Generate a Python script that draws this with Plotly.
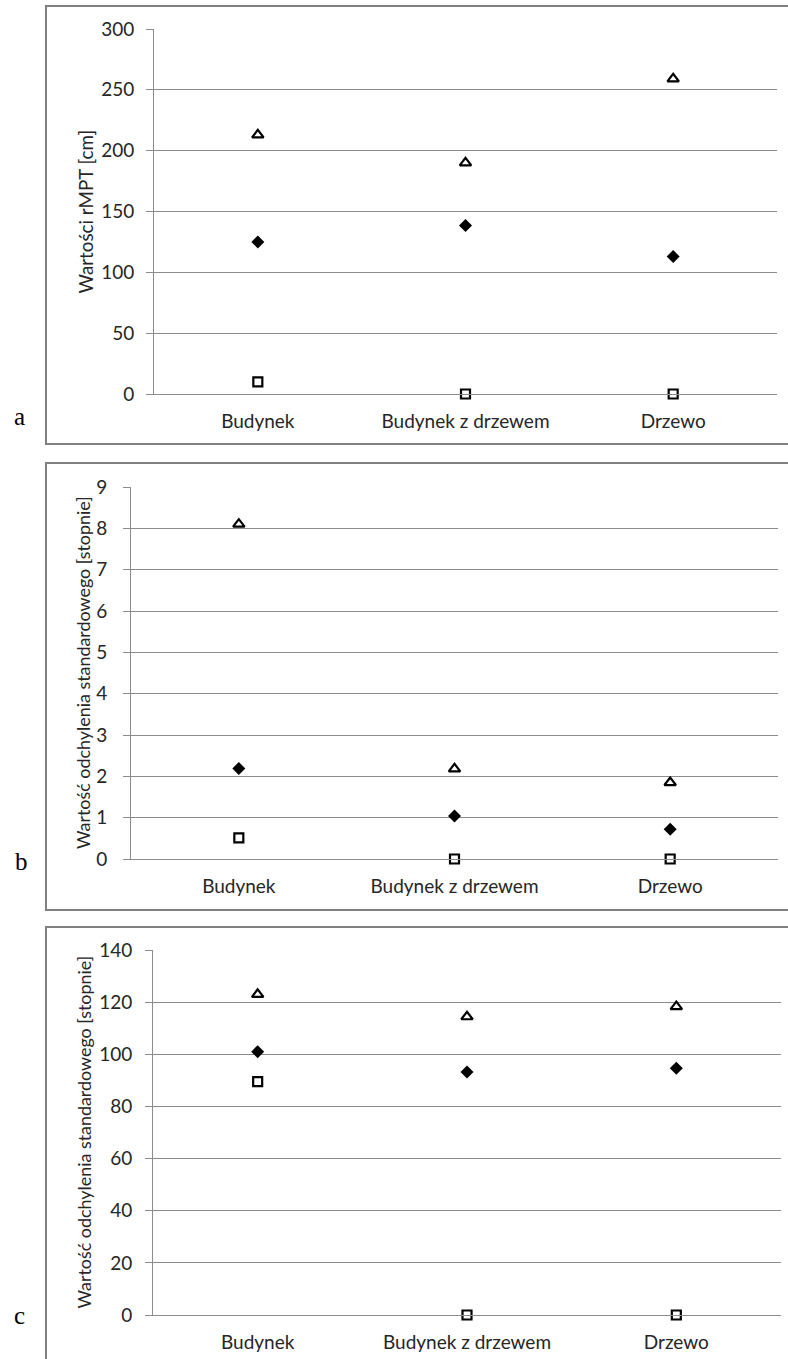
import plotly.graph_objects as go

W, H = 788, 1359

categories = ["Budynek", "Budynek z drzewem", "Drzewo"]

# panel a - rMPT [cm]
a_max = [213, 190, 259]
a_mean = [125, 138.5, 113]
a_min = [10, 0, 0]

# panel b
b_max = [8.1, 2.18, 1.85]
b_mean = [2.19, 1.04, 0.72]
b_min = [0.51, 0, 0]

# panel c
c_max = [123, 114.4, 118.3]
c_mean = [101, 93.2, 94.6]
c_min = [89.5, 0, 0]

y_ticks_a = [0, 50, 100, 150, 200, 250, 300]
y_ticks_b = [0, 1, 2, 3, 4, 5, 6, 7, 8, 9]
y_ticks_c = [0, 20, 40, 60, 80, 100, 120, 140]

titles = ["Wartości rMPT [cm]",
          "Wartość odchylenia standardowego [stopnie]",
          "Wartość odchylenia standardowego [stopnie]"]
letters = ["a", "b", "c"]

FONT = "Lato"
TXT = "#262626"
GRID = "#8c8c8c"


def px(x):
    return x / W


def py(y):
    return 1 - y / H


panels = [
    dict(data=(a_max, a_mean, a_min), ticks=y_ticks_a, x=(154, 777), y=(29, 394),
         box=(46, 6, 792, 444), tstand=8, title_x=85, tsize=18.8, letter=(19, 418)),
    dict(data=(b_max, b_mean, b_min), ticks=y_ticks_b, x=(131, 778), y=(487, 859),
         box=(46, 463, 792, 910), tstand=12, title_x=83, tsize=17.9, letter=(21, 864)),
    dict(data=(c_max, c_mean, c_min), ticks=y_ticks_c, x=(153, 781), y=(950, 1315),
         box=(46, 927, 792, 1365), tstand=9, title_x=83, tsize=17.9, letter=(19, 1317)),
]

fig = go.Figure()
shapes = []
annotations = []

for i, p in enumerate(panels):
    n = "" if i == 0 else str(i + 1)
    xa, ya = "x" + n, "y" + n
    vmax, vmean, vmin = p["data"]
    fig.add_trace(go.Scatter(x=categories, y=vmin, mode="markers", xaxis=xa, yaxis=ya,
                             cliponaxis=False, showlegend=False,
                             marker=dict(symbol="square-open", size=9, color="black",
                                         line=dict(width=2.2, color="black"))))
    fig.add_trace(go.Scatter(x=categories, y=vmean, mode="markers", xaxis=xa, yaxis=ya,
                             cliponaxis=False, showlegend=False,
                             marker=dict(symbol="diamond", size=10, color="black")))
    fig.add_trace(go.Scatter(x=categories, y=vmax, mode="markers", xaxis=xa, yaxis=ya,
                             cliponaxis=False, showlegend=False,
                             marker=dict(symbol="triangle-up-open", size=10, color="black",
                                         line=dict(width=2.2, color="black"))))
    x0, x1 = p["x"]
    y0, y1 = p["y"]
    fig.layout["xaxis" + n] = dict(
        domain=[px(x0), px(x1)], anchor=ya, type="category", automargin=False,
        range=[-0.5, 2.5], showgrid=False, showline=True, linecolor=GRID, linewidth=1,
        ticks="", ticklabelstandoff=10, zeroline=False,
        tickfont=dict(family=FONT, size=19, color=TXT), fixedrange=True)
    fig.layout["yaxis" + n] = dict(
        domain=[py(y1), py(y0)], anchor=xa, automargin=False,
        range=[p["ticks"][0], p["ticks"][-1]], tickvals=p["ticks"],
        showgrid=True, gridcolor=GRID, gridwidth=1,
        showline=True, linecolor=GRID, linewidth=1,
        ticks="outside", ticklen=7, tickcolor=GRID, tickwidth=1,
        ticklabelstandoff=p["tstand"], zeroline=False,
        tickfont=dict(family=FONT, size=19, color=TXT), fixedrange=True)
    bx0, by0, bx1, by1 = p["box"]
    shapes.append(dict(type="rect", xref="paper", yref="paper",
                       x0=px(bx0), x1=px(bx1), y0=py(by1), y1=py(by0),
                       line=dict(color="#808080", width=2), layer="below"))
    annotations.append(dict(text=titles[i], xref="paper", yref="paper",
                            x=px(p["title_x"]), y=py((y0 + y1) / 2),
                            xanchor="center", yanchor="middle", textangle=-90,
                            showarrow=False, font=dict(family=FONT, size=p["tsize"], color=TXT)))
    lx, ly = p["letter"]
    annotations.append(dict(text=letters[i], xref="paper", yref="paper",
                            x=px(lx), y=py(ly - 2), xanchor="center", yanchor="middle",
                            showarrow=False,
                            font=dict(family="Liberation Serif", size=25, color="black")))

fig.update_layout(width=W, height=H, margin=dict(l=0, r=0, t=0, b=0, autoexpand=False),
                  paper_bgcolor="white", plot_bgcolor="white",
                  shapes=shapes, annotations=annotations, showlegend=False)

fig.write_html("out.html", config={"displayModeBar": False, "staticPlot": True},
               post_script="document.body.style.margin='0';document.body.style.overflow='hidden';")
